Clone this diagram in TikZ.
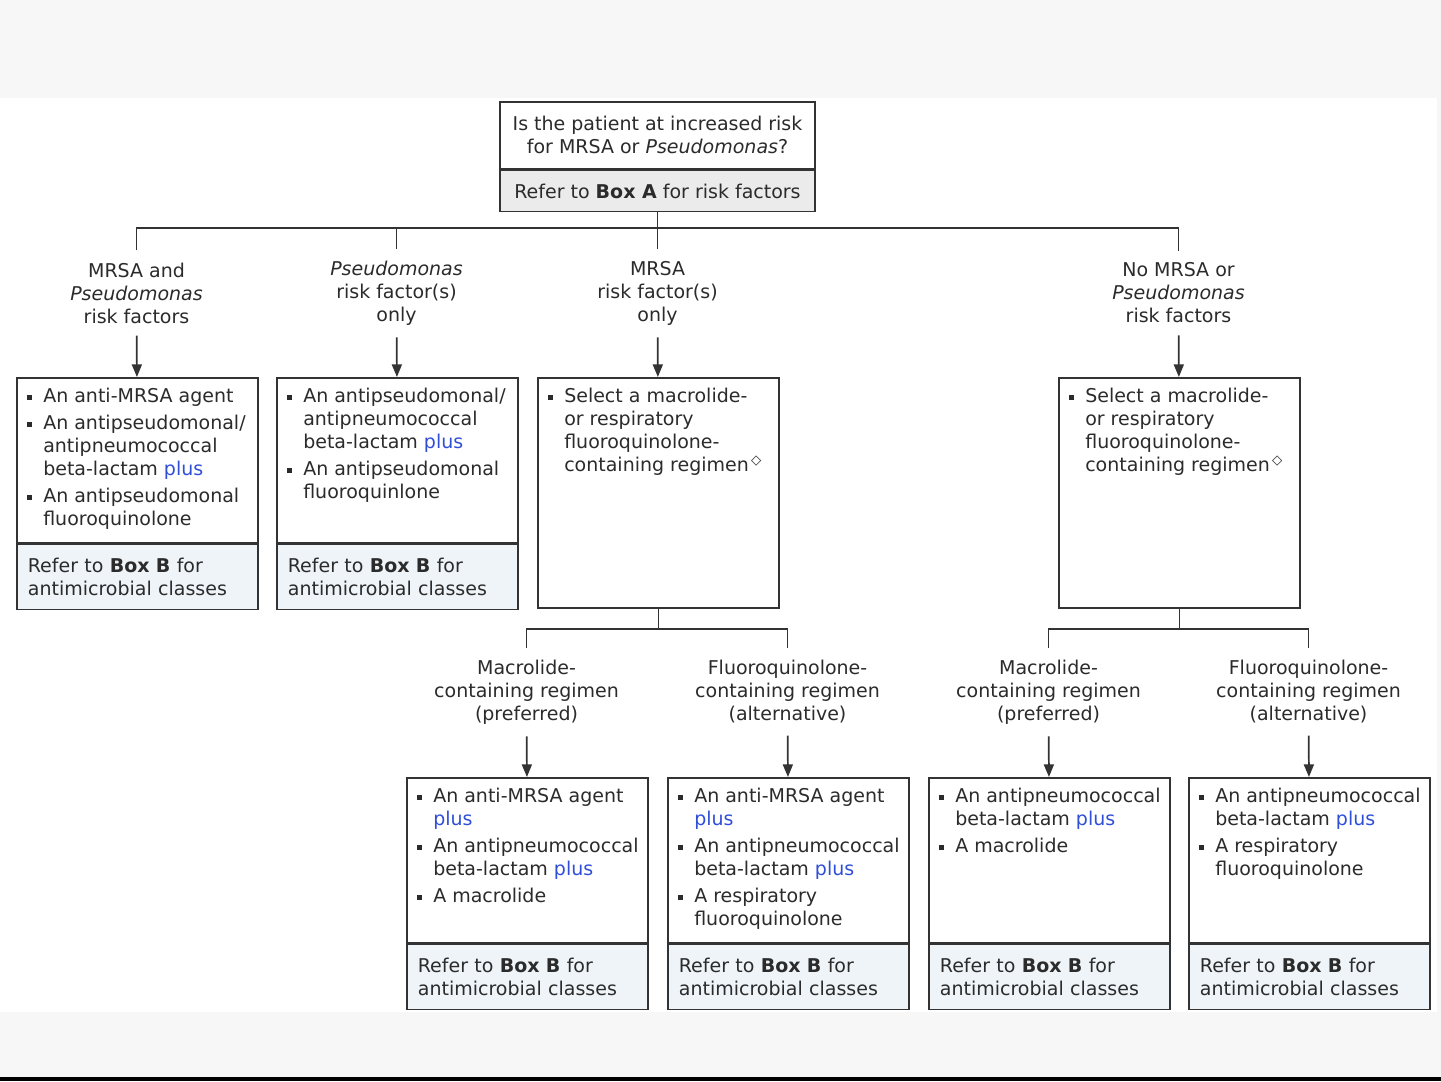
\documentclass[tikz,border=0pt]{standalone}
\usepackage{fontspec}
\setmainfont{DejaVu Sans}
\usetikzlibrary{arrows.meta,positioning}
\definecolor{inkgray}{HTML}{2B2B2B}
\definecolor{linegray}{HTML}{333333}
\definecolor{plusblue}{HTML}{2F4FD8}
\definecolor{referblue}{HTML}{EEF4F8}
\definecolor{askgray}{HTML}{EBEBEB}
\definecolor{pagegray}{HTML}{F7F7F7}
\newcommand\plusword{\textcolor{plusblue}{plus}}
\newcommand\bul{\makebox[12pt][l]{\rule[2.25pt]{3.75pt}{3.75pt}}}
\newcommand\ind{\hspace*{12pt}}
\newcommand\dia{\textsuperscript{\,◇}}
\tikzset{
  every node/.style={font=\fontsize{14.25pt}{17.25pt}\selectfont, text=inkgray},
  wire/.style={draw=linegray, line width=1.3pt},
  arr/.style={wire, -{Triangle[width=7.5pt,length=9.5pt]}},
  askbox/.style={draw=linegray, line width=1.3pt, minimum width=236.25pt, align=center, anchor=north},
  listbox/.style={draw=linegray, line width=1.3pt, fill=white, anchor=north west, minimum width=180.75pt, minimum height=123.75pt, inner sep=0pt},
  tallbox/.style={listbox, minimum height=172.5pt},
  referbox/.style={draw=linegray, line width=1.3pt, fill=referblue, anchor=north west, minimum height=48.75pt, text width=164.25pt, inner xsep=8.25pt, align=left},
  listtext/.style={anchor=north west, align=left, inner sep=0pt},
  branch/.style={align=center, inner xsep=0pt, inner ysep=9pt}
}
\begin{document}
\begin{tikzpicture}[x=0.75pt, y=-0.75pt]
\useasboundingbox (0,0) rectangle (1441,1081);
\fill[pagegray] (0,0) rectangle (1441,1081);
\fill[white] (0,98) rectangle (1437,1012);
\fill[black] (0,1077) rectangle (1441,1081);
% question
\node[askbox, fill=white, minimum height=50.25pt] (ask) at (657.5,101) {Is the patient at increased risk\\for MRSA or \textit{Pseudomonas}?};
\node[askbox, fill=askgray, minimum height=30.75pt] (askref) at (ask.south) {Refer to \textbf{Box A} for risk factors};
\coordinate (hub) at (657.5,228);
% risk groups
\node[branch] (both) at (136.5,293) {MRSA and\\\textit{Pseudomonas}\\risk factors};
\node[branch] (pseudo) at (396.5,293) {\textit{Pseudomonas}\\risk factor(s)\\only};
\node[branch] (mrsa) at (657.5,293) {MRSA\\risk factor(s)\\only};
\node[branch] (none) at (1178.5,293) {No MRSA or\\\textit{Pseudomonas}\\risk factors};
\draw[wire] (askref) -- (hub);
\draw[wire] (both.north) |- (hub) -| (none.north);
\draw[wire] (pseudo.north) -- (pseudo.north |- hub);
\draw[wire] (mrsa.north) -- (hub);
% second row boxes
\node[listbox] (bothbox) at (16,377) {};
\node[referbox] (bothref) at (bothbox.south west) {Refer to \textbf{Box B} for\\antimicrobial classes};
\node[listtext] at ([shift={(11,11)}]bothbox.north west) {\bul An anti-MRSA agent\\[3pt]\bul An antipseudomonal/\\\ind antipneumococcal\\\ind beta-lactam \plusword\\[3pt]\bul An antipseudomonal\\\ind fluoroquinolone};
\node[listbox] (pseudobox) at (276,377) {};
\node[referbox] (pseudoref) at (pseudobox.south west) {Refer to \textbf{Box B} for\\antimicrobial classes};
\node[listtext] at ([shift={(11,11)}]pseudobox.north west) {\bul An antipseudomonal/\\\ind antipneumococcal\\\ind beta-lactam \plusword\\[3pt]\bul An antipseudomonal\\\ind fluoroquinlone};
\node[tallbox] (mrsabox) at (537,377) {};
\node[listtext] at ([shift={(11,11)}]mrsabox.north west) {\bul Select a macrolide-\\\ind or respiratory\\\ind fluoroquinolone-\\\ind containing regimen\dia};
\node[tallbox] (nonebox) at (1058,377) {};
\node[listtext] at ([shift={(11,11)}]nonebox.north west) {\bul Select a macrolide-\\\ind or respiratory\\\ind fluoroquinolone-\\\ind containing regimen\dia};
\draw[arr] (both) -- (bothbox);
\draw[arr] (pseudo) -- (pseudobox);
\draw[arr] (mrsa) -- (mrsabox);
\draw[arr] (none) -- (nonebox);
% regimen choices
\node[branch] (mmac) at (526.5,692) {Macrolide-\\containing regimen\\(preferred)};
\node[branch] (mfq) at (787.5,692) {Fluoroquinolone-\\containing regimen\\(alternative)};
\node[branch] (nmac) at (1048.5,692) {Macrolide-\\containing regimen\\(preferred)};
\node[branch] (nfq) at (1308.5,692) {Fluoroquinolone-\\containing regimen\\(alternative)};
\draw[wire] (mrsabox.south) -- ++(0,20) coordinate (mhub);
\draw[wire] (mmac.north) |- (mhub) -| (mfq.north);
\draw[wire] (nonebox.south) -- ++(0,20) coordinate (nhub);
\draw[wire] (nmac.north) |- (nhub) -| (nfq.north);
% third row boxes
\node[listbox] (mmacbox) at (406,777) {};
\node[referbox] (mmacref) at (mmacbox.south west) {Refer to \textbf{Box B} for\\antimicrobial classes};
\node[listtext] at ([shift={(11,11)}]mmacbox.north west) {\bul An anti-MRSA agent\\\ind \plusword\\[3pt]\bul An antipneumococcal\\\ind beta-lactam \plusword\\[3pt]\bul A macrolide};
\node[listbox] (mfqbox) at (667,777) {};
\node[referbox] (mfqref) at (mfqbox.south west) {Refer to \textbf{Box B} for\\antimicrobial classes};
\node[listtext] at ([shift={(11,11)}]mfqbox.north west) {\bul An anti-MRSA agent\\\ind \plusword\\[3pt]\bul An antipneumococcal\\\ind beta-lactam \plusword\\[3pt]\bul A respiratory\\\ind fluoroquinolone};
\node[listbox] (nmacbox) at (928,777) {};
\node[referbox] (nmacref) at (nmacbox.south west) {Refer to \textbf{Box B} for\\antimicrobial classes};
\node[listtext] at ([shift={(11,11)}]nmacbox.north west) {\bul An antipneumococcal\\\ind beta-lactam \plusword\\[3pt]\bul A macrolide};
\node[listbox] (nfqbox) at (1188,777) {};
\node[referbox] (nfqref) at (nfqbox.south west) {Refer to \textbf{Box B} for\\antimicrobial classes};
\node[listtext] at ([shift={(11,11)}]nfqbox.north west) {\bul An antipneumococcal\\\ind beta-lactam \plusword\\[3pt]\bul A respiratory\\\ind fluoroquinolone};
\draw[arr] (mmac) -- (mmacbox);
\draw[arr] (mfq) -- (mfqbox);
\draw[arr] (nmac) -- (nmacbox);
\draw[arr] (nfq) -- (nfqbox);
\end{tikzpicture}
\end{document}
